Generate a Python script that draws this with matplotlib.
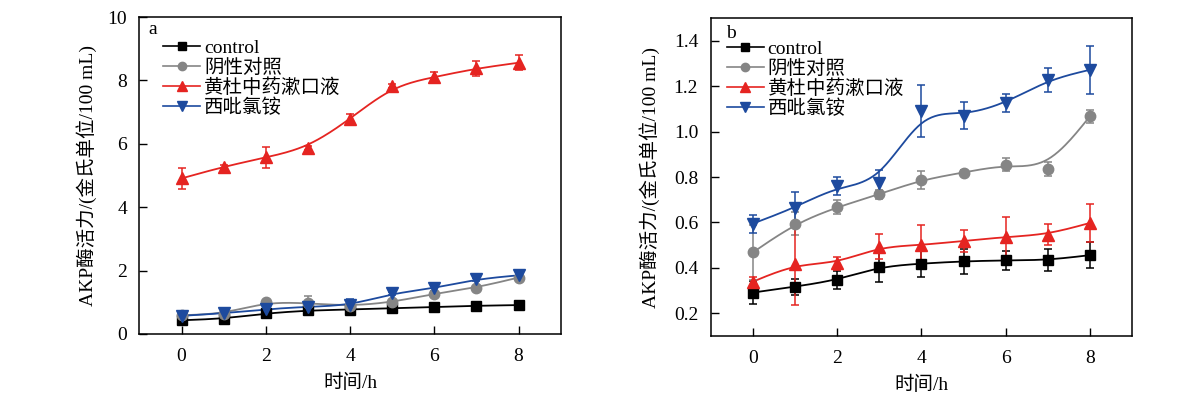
import numpy as np
import matplotlib
matplotlib.use("Agg")
import matplotlib.pyplot as plt
from matplotlib.lines import Line2D

plt.rcParams["font.family"] = ["Liberation Serif", "Noto Sans CJK SC"]
plt.rcParams["axes.unicode_minus"] = False

# ------------------------------------------------------------
# Data
# ------------------------------------------------------------
hours = [0, 1, 2, 3, 4, 5, 6, 7, 8]
labels = ["control", "阴性对照", "黄杜中药漱口液", "西吡氯铵"]

a_control = [0.43, 0.48, 0.65, 0.74, 0.77, 0.81, 0.85, 0.89, 0.91]
a_control_err = [0.05, 0.17, 0.13, 0.05, 0.05, 0.04, 0.04, 0.04, 0.04]
a_neg = [0.59, 0.63, 1.01, 0.97, 0.88, 1.00, 1.27, 1.46, 1.78]
a_neg_err = [0.05, 0.05, 0.06, 0.22, 0.08, 0.05, 0.06, 0.05, 0.10]
a_hd = [4.91, 5.28, 5.57, 5.88, 6.78, 7.82, 8.11, 8.38, 8.56]
a_hd_err = [0.33, 0.06, 0.33, 0.06, 0.17, 0.06, 0.15, 0.23, 0.24]
a_chx = [0.57, 0.65, 0.78, 0.86, 0.90, 1.28, 1.44, 1.73, 1.85]
a_chx_err = [0.05, 0.05, 0.12, 0.08, 0.20, 0.05, 0.10, 0.05, 0.10]

b_control = [0.291, 0.317, 0.346, 0.405, 0.419, 0.429, 0.433, 0.434, 0.456]
b_control_err = [0.05, 0.035, 0.04, 0.066, 0.06, 0.054, 0.043, 0.05, 0.058]
b_neg = [0.468, 0.595, 0.668, 0.724, 0.788, 0.820, 0.855, 0.837, 1.068]
b_neg_err = [0.12, 0.05, 0.03, 0.02, 0.04, 0.01, 0.03, 0.03, 0.03]
b_hd = [0.339, 0.416, 0.42, 0.493, 0.50, 0.519, 0.536, 0.547, 0.598]
b_hd_err = [0.02, 0.18, 0.03, 0.055, 0.09, 0.05, 0.09, 0.045, 0.085]
b_chx = [0.595, 0.665, 0.759, 0.775, 1.093, 1.071, 1.125, 1.229, 1.273]
b_chx_err = [0.04, 0.07, 0.04, 0.057, 0.114, 0.06, 0.04, 0.052, 0.105]

colors = ["black", "#858585", "#e52421", "#1d4a9e"]
markers = ["s", "o", "^", "v"]
msizes = [6.5, 7.5, 8.5, 8.5]

FS = 14


# ------------------------------------------------------------
# B-spline line (uniform cubic, data as control points, for drawing only)
# ------------------------------------------------------------
def bspline_curve(x, y, n=25):
    x = np.asarray(x, float)
    y = np.asarray(y, float)
    px = np.concatenate([[2 * x[0] - x[1]], x, [2 * x[-1] - x[-2]]])
    py = np.concatenate([[2 * y[0] - y[1]], y, [2 * y[-1] - y[-2]]])
    xs, ys = [], []
    for i in range(len(x) - 1):
        t = np.linspace(0, 1, n, endpoint=(i == len(x) - 2))
        b0 = (1 - t) ** 3 / 6
        b1 = (3 * t**3 - 6 * t**2 + 4) / 6
        b2 = (-3 * t**3 + 3 * t**2 + 3 * t + 1) / 6
        b3 = t**3 / 6
        xs.append(b0 * px[i] + b1 * px[i + 1] + b2 * px[i + 2] + b3 * px[i + 3])
        ys.append(b0 * py[i] + b1 * py[i + 1] + b2 * py[i + 2] + b3 * py[i + 3])
    return np.concatenate(xs), np.concatenate(ys)


def draw_panel(ax, series, errs, letter, ylim, yticks, yfmt, legend_xy, letter_xy, ylab_x):
    for vals, err, c, mk, ms in zip(series, errs, colors, markers, msizes):
        xs, ys = bspline_curve(hours, vals)
        ax.plot(xs, ys, color=c, lw=1.3, zorder=2)
        ax.errorbar(hours, vals, yerr=err, fmt="none", ecolor=c, elinewidth=1.1,
                    capsize=3.2, capthick=1.1, zorder=3)
        ax.plot(hours, vals, linestyle="none", marker=mk, ms=ms, color=c,
                markeredgecolor=c, zorder=4)

    ax.set_xlim(-1, 9)
    ax.set_ylim(*ylim)
    ax.set_xticks([0, 2, 4, 6, 8])
    ax.set_yticks(yticks)
    ax.set_yticklabels([yfmt.format(v) for v in yticks])
    ax.tick_params(direction="in", length=6, width=1, labelsize=FS)
    ax.tick_params(axis="x", pad=10)
    ax.tick_params(axis="y", pad=9)
    for sp in ax.spines.values():
        sp.set_linewidth(1.1)

    ax.set_xlabel("时间/h", fontsize=FS)
    ax.xaxis.set_label_coords(0.5, -0.125)
    ax.set_ylabel("AKP酶活力/(金氏单位/100 mL)", fontsize=FS)
    ax.yaxis.set_label_coords(ylab_x, 0.5)

    ax.text(letter_xy[0], letter_xy[1], letter, transform=ax.transAxes,
            fontsize=FS, ha="left", va="baseline")

    handles = [Line2D([], [], color=c, marker=mk, ms=ms * 0.8, lw=1.2)
               for c, mk, ms in zip(colors, markers, msizes)]
    ax.legend(handles, labels, loc="upper left", bbox_to_anchor=legend_xy,
              frameon=False, fontsize=FS, handlelength=1.9, handletextpad=0.2,
              labelspacing=0.08, borderpad=0, borderaxespad=0)


# ------------------------------------------------------------
# Main
# ------------------------------------------------------------
fig = plt.figure(figsize=(11.78, 3.98), dpi=100)
ax_a = fig.add_axes([0.1184, 0.161, 0.3576, 0.796])
ax_b = fig.add_axes([0.6033, 0.156, 0.3577, 0.798])

draw_panel(ax_a, [a_control, a_neg, a_hd, a_chx],
           [a_control_err, a_neg_err, a_hd_err, a_chx_err],
           "a", (0, 10), [0, 2, 4, 6, 8, 10], "{:g}",
           (0.056, 0.93), (0.02, 0.946), -0.100)

draw_panel(ax_b, [b_control, b_neg, b_hd, b_chx],
           [b_control_err, b_neg_err, b_hd_err, b_chx_err],
           "b", (0.1, 1.5), [0.2, 0.4, 0.6, 0.8, 1.0, 1.2, 1.4], "{:.1f}",
           (0.038, 0.93), (0.036, 0.938), -0.120)

fig.savefig("out.png", dpi=100)
